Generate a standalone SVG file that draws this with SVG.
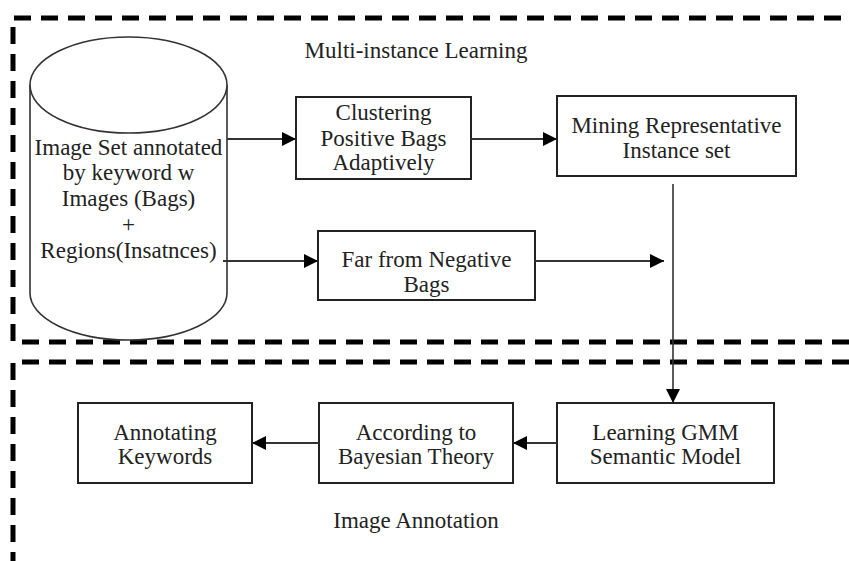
<svg xmlns="http://www.w3.org/2000/svg" width="849" height="561" viewBox="0 0 849 561">
<style>
text{font-family:"Liberation Serif","Times New Roman",serif;font-size:23px;fill:#222;text-anchor:middle}
.box{fill:#fff;stroke:#222;stroke-width:2}
.dash{fill:none;stroke:#000;stroke-width:5;stroke-dasharray:17 10}
.conn{fill:none;stroke:#333;stroke-width:2;marker-end:url(#ah)}
.cyl{fill:#fff;stroke:#333;stroke-width:1.6}
</style>
<defs>
<marker id="ah" markerUnits="userSpaceOnUse" markerWidth="14" markerHeight="14" refX="14" refY="7" orient="auto">
<path d="M0,0 L14,7 L0,14 z" fill="#000"/>
</marker>
</defs>
<rect width="849" height="561" fill="#fff"/>
<g id="regions">
<path class="dash" d="M849,342 H13 V18 H849"/>
<path class="dash" d="M849,362 H13 V561"/>
<text x="416" y="58">Multi-instance Learning</text>
<text x="416" y="528">Image Annotation</text>
</g>
<g id="imageset">
<path class="cyl" d="M30,85 V293 A98.5,47 0 0 0 227,293 V85"/>
<ellipse class="cyl" cx="128.5" cy="85" rx="98.5" ry="48"/>
<text x="128.5" y="155">Image Set annotated</text>
<text x="128.5" y="180">by keyword w</text>
<text x="128.5" y="206">Images (Bags)</text>
<text x="128.5" y="232">+</text>
<text x="128.5" y="258">Regions(Insatnces)</text>
</g>
<g id="clustering">
<rect class="box" x="296" y="97" width="175" height="82"/>
<text x="383.5" y="120">Clustering</text>
<text x="383.5" y="146">Positive Bags</text>
<text x="383.5" y="170">Adaptively</text>
</g>
<g id="mining">
<rect class="box" x="557" y="96" width="239" height="80"/>
<text x="676.5" y="133">Mining Representative</text>
<text x="676.5" y="158">Instance set</text>
</g>
<g id="farneg">
<rect class="box" x="318" y="231" width="217" height="69"/>
<text x="426.5" y="267">Far from Negative</text>
<text x="426.5" y="292">Bags</text>
</g>
<g id="learning">
<rect class="box" x="557" y="403" width="217" height="80"/>
<text x="665.5" y="440">Learning GMM</text>
<text x="665.5" y="464">Semantic Model</text>
</g>
<g id="according">
<rect class="box" x="319" y="403" width="194" height="80"/>
<text x="416" y="440">According to</text>
<text x="416" y="464">Bayesian Theory</text>
</g>
<g id="annotating">
<rect class="box" x="78" y="403" width="174" height="80"/>
<text x="165" y="440">Annotating</text>
<text x="165" y="464">Keywords</text>
</g>
<g id="connectors">
<path class="conn" d="M227,139 H296"/>
<path class="conn" d="M471,139 H557"/>
<path class="conn" d="M223,261 H318"/>
<path class="conn" d="M535,261 H664"/>
<path class="conn" style="stroke-width:1.6" d="M673,184 V403"/>
<path class="conn" d="M557,443 H513"/>
<path class="conn" d="M319,443 H252"/>
</g>
</svg>
